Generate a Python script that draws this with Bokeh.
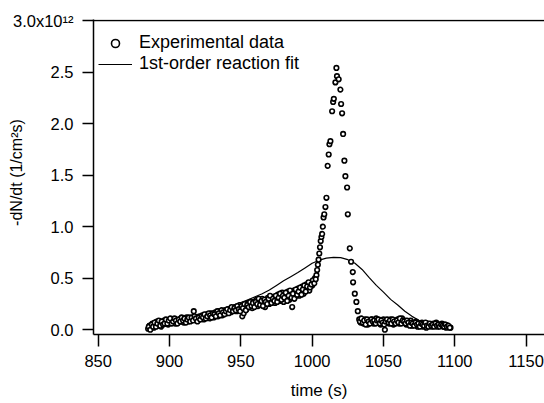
from bokeh.plotting import figure
from bokeh.models import Range1d, FixedTicker, Span, Legend, LegendItem
from bokeh.embed import file_html
from bokeh.resources import INLINE

# Experimental data (time in s, rate in units of 1e12 1/cm^2 s), whole seconds
time_s = [885, 886, 887, 888, 889, 890, 891, 892, 893, 894, 895, 896, 897, 898, 899,
          900, 901, 902, 903, 904, 905, 906, 907, 908, 909, 910, 911, 912, 913, 914,
          915, 916, 917, 918, 919, 920, 921, 922, 923, 924, 925, 926, 927, 928, 929,
          930, 931, 932, 933, 934, 935, 936, 937, 938, 939, 940, 941, 942, 943, 944,
          945, 946, 947, 948, 949, 950, 951, 952, 953, 954, 955, 956, 957, 958, 959,
          960, 961, 962, 963, 964, 965, 966, 967, 968, 969, 970, 971, 972, 973, 974,
          975, 976, 977, 978, 979, 980, 981, 982, 983, 984, 985, 986, 987, 988, 989,
          990, 991, 992, 993, 994, 995, 996, 997, 998, 999, 1000, 1001, 1002, 1003,
          1003.5, 1004, 1004.5, 1005, 1005.5, 1006, 1006.5, 1007, 1007.5, 1008, 1008.5,
          1009.3, 1010, 1010.9,
          1011.6, 1012.1, 1012.8, 1014, 1014.7, 1015.2, 1016.3, 1017, 1017.4, 1018.6,
          1019.8, 1020.3, 1021, 1021.7, 1022.6, 1023.3, 1024.5, 1025, 1026.4, 1027.3,
          1028.5, 1028.7, 1029.9, 1031, 1032,
          1033, 1034, 1035, 1036, 1037, 1038, 1039, 1040, 1041, 1042, 1043, 1044,
          1045, 1046, 1047, 1048, 1049, 1050, 1051, 1052, 1053, 1054, 1055, 1056,
          1057, 1058, 1059, 1060, 1061, 1062, 1063, 1064, 1065, 1066, 1067, 1068,
          1069, 1070, 1071, 1072, 1073, 1074, 1075, 1076, 1077, 1078, 1079, 1080,
          1081, 1082, 1083, 1084, 1085, 1086, 1087, 1088, 1089, 1090, 1091, 1092,
          1093, 1094, 1095, 1096, 1097]
rate = [0.01, 0.04, 0.03, 0.06, 0.02, 0.05, 0.08, 0.04, 0.06, 0.03, 0.07, 0.09, 0.06, 0.08, 0.05,
        0.09, 0.07, 0.10, 0.08, 0.06, 0.09, 0.07, 0.10, 0.08, 0.11, 0.07, 0.09, 0.12, 0.08, 0.10,
        0.09, 0.11, 0.18, 0.10, 0.12, 0.09, 0.13, 0.11, 0.14, 0.10, 0.12, 0.15, 0.13, 0.11, 0.16,
        0.14, 0.12, 0.17, 0.15, 0.13, 0.18, 0.16, 0.14, 0.17, 0.19, 0.16, 0.18, 0.20, 0.17, 0.21,
        0.19, 0.22, 0.18, 0.21, 0.24, 0.20, 0.13, 0.16, 0.23, 0.20, 0.26, 0.22, 0.25, 0.21, 0.27,
        0.24, 0.29, 0.23, 0.27, 0.25, 0.30, 0.26, 0.22, 0.28, 0.31, 0.25, 0.29, 0.27, 0.32, 0.26,
        0.30, 0.34, 0.28, 0.31, 0.36, 0.27, 0.33, 0.30, 0.37, 0.29, 0.34, 0.22, 0.38, 0.32, 0.36,
        0.40, 0.33, 0.37, 0.42, 0.35, 0.39, 0.44, 0.41, 0.38, 0.45, 0.43, 0.47, 0.50, 0.53,
        0.58, 0.63, 0.68, 0.74, 0.80, 0.86, 0.90, 0.93, 1.00, 1.09, 1.12,
        1.19, 1.28, 1.59,
        1.70, 1.80, 1.83, 2.12, 2.21, 2.24, 2.40, 2.54, 2.46, 2.43,
        2.33, 2.19, 2.10, 1.90, 1.64, 1.49, 1.38, 1.12, 0.79, 0.66,
        0.56, 0.46, 0.35, 0.27, 0.18,
        0.10, 0.07, 0.09, 0.06, 0.10, 0.08, 0.05, 0.09, 0.07, 0.10, 0.06, 0.08,
        0.11, 0.07, 0.09, 0.05, 0.08, 0.10, 0.00, 0.07, 0.09, 0.06, 0.10, 0.08,
        0.05, 0.09, 0.07, 0.10, 0.06, 0.08, 0.11, 0.07, 0.09, 0.05, 0.08, 0.06,
        0.09, 0.04, 0.07, 0.05, 0.08, 0.03, 0.06, 0.04, 0.07, 0.03, 0.05, 0.02,
        0.06, 0.04, 0.05, 0.03, 0.06, 0.04, 0.07, 0.03, 0.05, 0.04, 0.06, 0.03,
        0.05, 0.02, 0.04, 0.03, 0.02]

# Experimental data, half-second samples
time_half = [885.5, 886.5, 887.5, 888.5, 889.5, 890.5, 891.5, 892.5, 893.5, 894.5,
             895.5, 896.5, 897.5, 898.5, 899.5, 900.5, 901.5, 902.5, 903.5, 904.5,
             905.5, 906.5, 907.5, 908.5, 909.5, 910.5, 911.5, 912.5, 913.5, 914.5,
             915.5, 916.5, 917.5, 918.5, 919.5, 920.5, 921.5, 922.5, 923.5, 924.5,
             925.5, 926.5, 927.5, 928.5, 929.5, 930.5, 931.5, 932.5, 933.5, 934.5,
             935.5, 936.5, 937.5, 938.5, 939.5, 940.5, 941.5, 942.5, 943.5, 944.5,
             945.5, 946.5, 947.5, 948.5, 949.5, 950.5, 951.5, 952.5, 953.5, 954.5,
             955.5, 956.5, 957.5, 958.5, 959.5, 960.5, 961.5, 962.5, 963.5, 964.5,
             965.5, 966.5, 967.5, 968.5, 969.5, 970.5, 971.5, 972.5, 973.5, 974.5,
             975.5, 976.5, 977.5, 978.5, 979.5, 980.5, 981.5, 982.5, 983.5, 984.5,
             985.5, 986.5, 987.5, 988.5, 989.5, 990.5, 991.5, 992.5, 993.5, 994.5,
             995.5, 996.5, 997.5, 998.5, 999.5, 1000.5, 1001.5, 1002.5,
             1033.5, 1034.5, 1035.5, 1036.5, 1037.5, 1038.5, 1039.5, 1040.5, 1041.5, 1042.5,
             1043.5, 1044.5, 1045.5, 1046.5, 1047.5, 1048.5, 1049.5, 1050.5, 1051.5, 1052.5,
             1053.5, 1054.5, 1055.5, 1056.5, 1057.5, 1058.5, 1059.5, 1060.5, 1061.5, 1062.5,
             1063.5, 1064.5, 1065.5, 1066.5, 1067.5, 1068.5, 1069.5, 1070.5, 1071.5, 1072.5,
             1073.5, 1074.5, 1075.5, 1076.5, 1077.5, 1078.5, 1079.5, 1080.5, 1081.5, 1082.5,
             1083.5, 1084.5, 1085.5, 1086.5, 1087.5, 1088.5, 1089.5, 1090.5, 1091.5, 1092.5,
             1093.5, 1094.5, 1095.5, 1096.5]
rate_half = [0.03, 0.00, 0.05, 0.03, 0.07, 0.03, 0.06, 0.09, 0.04, 0.08,
             0.05, 0.06, 0.10, 0.06, 0.09, 0.11, 0.06, 0.08, 0.11, 0.09,
             0.06, 0.10, 0.08, 0.12, 0.09, 0.11, 0.07, 0.10, 0.12, 0.08,
             0.12, 0.09, 0.13, 0.11, 0.08, 0.12, 0.10, 0.13, 0.12, 0.15,
             0.11, 0.13, 0.16, 0.14, 0.12, 0.16, 0.15, 0.13, 0.18, 0.16,
             0.14, 0.19, 0.17, 0.15, 0.18, 0.20, 0.16, 0.19, 0.22, 0.18,
             0.21, 0.19, 0.23, 0.20, 0.18, 0.23, 0.21, 0.25, 0.19, 0.24,
             0.22, 0.27, 0.23, 0.26, 0.22, 0.27, 0.25, 0.30, 0.24, 0.28,
             0.23, 0.29, 0.27, 0.25, 0.30, 0.33, 0.26, 0.30, 0.28, 0.33,
             0.27, 0.31, 0.35, 0.29, 0.33, 0.31, 0.36, 0.28, 0.33, 0.38,
             0.31, 0.35, 0.30, 0.39, 0.34, 0.37, 0.41, 0.34, 0.39, 0.43,
             0.37, 0.42, 0.46, 0.41, 0.44, 0.48, 0.45, 0.49,
             0.08, 0.11, 0.07, 0.09, 0.05, 0.10, 0.08, 0.06, 0.10, 0.08,
             0.09, 0.06, 0.09, 0.10, 0.06, 0.09, 0.07, 0.05, 0.08, 0.10,
             0.07, 0.09, 0.06, 0.10, 0.08, 0.06, 0.09, 0.07, 0.11, 0.06,
             0.09, 0.08, 0.06, 0.09, 0.07, 0.04, 0.07, 0.06, 0.04, 0.07,
             0.05, 0.06, 0.03, 0.06, 0.05, 0.04, 0.07, 0.04, 0.03, 0.06,
             0.04, 0.05, 0.03, 0.06, 0.04, 0.05, 0.03, 0.05, 0.04, 0.03,
             0.05, 0.03, 0.04, 0.02]

# 1st-order reaction fit
fit_time = [885, 890, 895, 900, 905, 910, 915, 920, 925, 930, 935, 940, 945, 950, 955,
            960, 965, 970, 975, 980, 985, 990, 995, 1000, 1005, 1010, 1015, 1020, 1025,
            1030, 1035, 1040, 1045, 1050, 1055, 1060, 1065, 1070, 1075, 1080, 1085, 1090,
            1095, 1098]
fit_rate = [0.032, 0.042, 0.053, 0.066, 0.08, 0.095, 0.112, 0.13, 0.15, 0.17, 0.19, 0.215,
            0.24, 0.265, 0.29, 0.32, 0.35, 0.385, 0.43, 0.475, 0.515, 0.555, 0.60, 0.645,
            0.675, 0.695, 0.703, 0.70, 0.68, 0.645, 0.585, 0.505, 0.43, 0.365, 0.295, 0.24,
            0.18, 0.13, 0.09, 0.06, 0.033, 0.017, 0.007, 0.004]

x_ticks = [850, 900, 950, 1000, 1050, 1100, 1150]
y_ticks = [0.0, 0.5, 1.0, 1.5, 2.0, 2.5, 3.0]
y_tick_labels = ["0.0", "0.5", "1.0", "1.5", "2.0", "2.5", "3.0x10\u00b9\u00b2"]

FONT = "Liberation Sans"

all_t = time_s + time_half
all_r = rate + rate_half

p = figure(width=544, height=403, output_backend="svg", toolbar_location=None,
           x_range=Range1d(846.7, 1162.9), y_range=Range1d(-0.046, 3.01),
           min_border_left=93, min_border_top=19, min_border_right=0,
           min_border_bottom=69)
p.outline_line_color = None
p.grid.visible = False
p.background_fill_color = "white"

ln = p.line(fit_time, fit_rate, line_color="black", line_width=1.2)
sc = p.scatter(all_t, all_r, marker="circle", size=4.6, line_color="black",
               fill_color="white", line_width=1.6)

p.add_layout(Span(location=3.0, dimension="width", line_color="black", line_width=1.5))

xa = p.xaxis[0]
xa.ticker = FixedTicker(ticks=x_ticks)
xa.axis_label = "time (s)"
ya = p.yaxis[0]
ya.ticker = FixedTicker(ticks=y_ticks)
ya.major_label_overrides = {t: s for t, s in zip(y_ticks, y_tick_labels)}
ya.axis_label = "\u00a0\u00a0\u00a0-dN/dt  (1/cm\u00b2s)"

for ax in (xa, ya):
    ax.axis_line_color = "black"
    ax.axis_line_width = 1.5
    ax.major_tick_line_color = "black"
    ax.major_tick_line_width = 1.5
    ax.major_tick_in = 0
    ax.minor_tick_line_color = None
    ax.major_label_text_font = FONT
    ax.major_label_text_font_size = "16.5px"
    ax.major_label_text_color = "black"
    ax.axis_label_text_font = FONT
    ax.axis_label_text_font_style = "normal"
    ax.axis_label_text_color = "black"

xa.axis_label_text_font_size = "17px"
ya.axis_label_text_font_size = "16px"
xa.major_tick_out = 12
xa.major_label_standoff = 8
xa.axis_label_standoff = 11
ya.major_tick_out = 11
ya.major_label_standoff = 9
ya.axis_label_standoff = -15

legend = Legend(items=[LegendItem(label="Experimental data", renderers=[sc]),
                       LegendItem(label="1st-order reaction fit", renderers=[ln])],
                location=(5, 260), padding=0, margin=0, spacing=0,
                glyph_width=34, glyph_height=20, label_height=20, label_standoff=7,
                label_text_font=FONT, label_text_font_size="18px",
                label_text_color="black",
                border_line_color=None, background_fill_alpha=0)
p.add_layout(legend, "center")

open("out.html", "w").write(file_html(p, INLINE))
